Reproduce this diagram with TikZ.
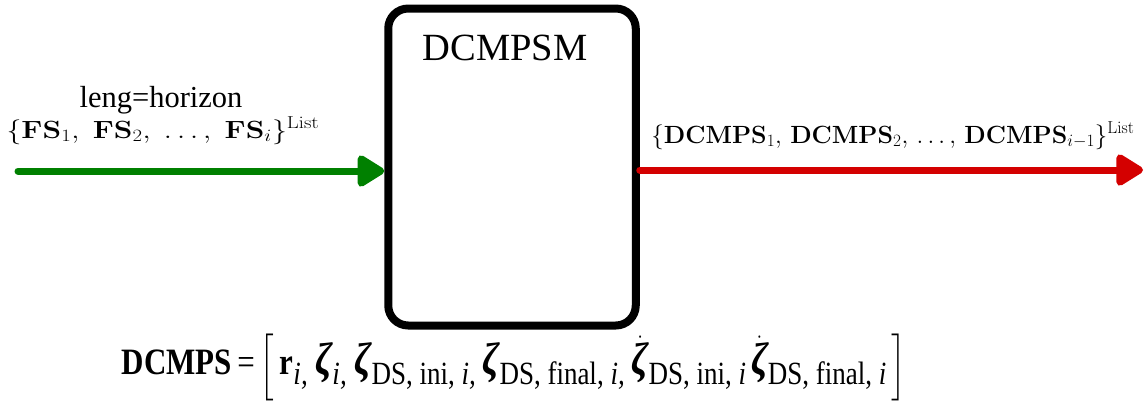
\documentclass[tikz,border=0pt]{standalone}
\usepackage{amsmath,amssymb,graphicx}
\usepackage[no-math]{fontspec}
\setmainfont{Liberation Serif}
\usetikzlibrary{arrows.meta}
\definecolor{ingreen}{RGB}{0,128,0}
\definecolor{outred}{RGB}{212,0,0}
% bold italic zeta and lowered subscript text for the entry definition
\newcommand{\zt}{{\fontsize{38}{40}\selectfont\bfseries\itshape ζ}}
\newcommand{\dzt}{$\dot{\hbox{\zt}}$}
\newcommand{\sbx}[1]{\raisebox{-8pt}{\fontsize{27}{30}\selectfont #1}}
\tikzset{
  module/.style={draw=black, line width=8pt, rounded corners=20pt, inner sep=0pt,
    minimum width=247.5pt, minimum height=317pt},
  flow/.style={line width=7pt, line cap=round,
    -{Triangle[length=30pt 0 0,width=35pt 0 0,round=false]}},
  lbl/.style={inner sep=0pt},
  ttl/.style={inner sep=0pt, font=\fontsize{38.5}{42}\selectfont}
}
\begin{document}
\begin{tikzpicture}[x=1pt,y=-1pt]
\useasboundingbox (0,0) rectangle (1146,400);
% the state-machine block
\node[module] (sm) at (512,167) {};
\node[ttl, anchor=base] (smname) at (505,60) {DCMPSM};
% input list
\coordinate (src) at (18,171);
\draw[flow, draw=ingreen, fill=ingreen] (src) -- (sm.west |- src);
\node[lbl, font=\fontsize{30.5}{34}\selectfont, anchor=base] (lenglbl) at (161,107) {leng=horizon};
\node[lbl, font=\fontsize{24}{28}\selectfont, anchor=base] (inlist) at (163,138)
  {\scalebox{1.2}[1]{$\{\mathbf{FS}_1,\;\mathbf{FS}_2,\;\ldots,\;\mathbf{FS}_i\}^{\mathrm{List}}$}};
% output list
\coordinate (dst) at (1143,170);
\draw[flow, draw=outred, fill=outred] (sm.east |- dst) -- (dst);
\node[lbl, font=\fontsize{26.1}{28}\selectfont, anchor=base] (outlist) at (893,143)
  {$\{\mathbf{DCMPS}_1,\,\mathbf{DCMPS}_2,\,\ldots,\,\mathbf{DCMPS}_{i-1}\}^{\mathrm{List}}$};
% definition of one DCMPS entry
\node[inner sep=0pt, font=\fontsize{31}{34}\selectfont] (def) at (514,367)
  {\scalebox{1}[1.2]{{\bfseries DCMPS}\,=\,$\bigg[$\,%
   {\bfseries r}\sbx{\itshape i,}\hspace{8pt}%
   \zt\sbx{\itshape i,}\hspace{8pt}%
   \zt\sbx{DS, ini, \itshape i,}\hspace{7pt}%
   \zt\sbx{DS, final, \itshape i,}\hspace{7pt}%
   \dzt\sbx{DS, ini, \itshape i}\hspace{5pt}%
   \dzt\sbx{DS, final, \itshape i}\,$\bigg]$}};
\end{tikzpicture}
\end{document}
